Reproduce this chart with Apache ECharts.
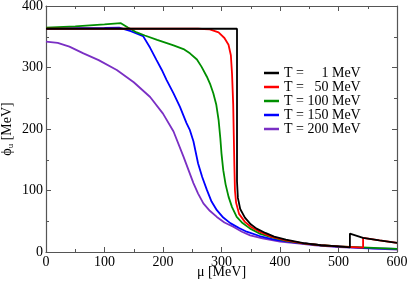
<!DOCTYPE html>
<html><head><meta charset="utf-8">
<script src="https://cdn.jsdelivr.net/npm/echarts@6/dist/echarts.min.js"></script>
<style>html,body{margin:0;padding:0;background:#fff}#c{width:409px;height:283px}</style>
</head><body><div id="c"></div>
<script>
const legendNums = ['1','50','100','150','200'];
const seriesNames = legendNums.map(n => 'T = ' + '\u2007'.repeat(3 - n.length) + n + ' MeV');
const colors = ['#000000','#ff0000','#008f00','#0000ff','#7a2fc4'];
const xTicks = [0,100,200,300,400,500,600];
const yTicks = [0,100,200,300,400];

const t1 = [[0,363],[100,363],[200,363],[300,363],[326.5,363],[326.5,115],[328,88],[332,70],[340,56],[350,45],[360,38],[375,31],[390,25],[410,20],[440,14.5],[470,11],[500,9],[519.5,7.5],[519.5,30],[542,23],[570,19],[600,15]];
const t50 = [[0,363],[100,363],[200,363],[260,363],[280,362],[295,357],[305,348],[312,337],[316,320],[318,290],[320,240],[321,190],[322,140],[323,100],[325,80],[330,62],[340,49],[350,41],[365,33],[385,25],[410,19],[440,14],[470,11],[500,9],[542,7],[542,23],[570,19],[600,15]];
const t100 = [[0,365],[50,367],[100,370],[128,372],[140,365],[155,357],[169,352],[190,345],[218,336],[235,330],[246,323],[258,313],[266,301],[275,285],[281,272],[286,258],[291,240],[295,215],[298,185],[300,160],[303,133],[307,110],[312,90],[318,73],[326,57],[336,47],[349,38],[365,30],[385,24],[410,18],[440,14],[470,11],[500,9],[550,7],[600,5]];
const t150 = [[0,363],[60,364],[100,364.5],[125,365],[145,359],[166,351],[178,332],[189,312],[198,296],[206,280],[218,258],[229,236],[240,210],[246,198],[252,180],[260,144],[267,122],[275,101],[283,82],[292,68],[303,56],[315,47],[330,39],[343,33],[365,26],[390,20],[420,16],[450,13],[480,10],[520,8],[560,6],[600,5]];
const t200 = [[0,342],[20,340],[40,334],[64,323],[90,312],[121,296],[150,276],[178,252],[200,225],[218,196],[235,155],[252,112],[260,95],[269,79],[280,67],[292,57],[305,48],[320,41],[335,33],[349,27],[370,22],[400,17],[430,14],[460,11],[500,8],[550,6],[600,4]];
const allData = [t1,t50,t100,t150,t200];

const font = 'Liberation Serif';
const frame = '#555';
function axisCommon(showLabels){
  return {
    axisLine:{show:true,onZero:false,lineStyle:{color:frame,width:1.2}},
    axisTick:{show:true,inside:true,length:5,lineStyle:{color:frame}},
    minorTick:{show:true,splitNumber:2,length:3,lineStyle:{color:frame}},
    splitLine:{show:false},
    axisLabel:{show:showLabels,color:'#000',fontFamily:font,fontSize:14,margin:3}
  };
}
const chart = echarts.init(document.getElementById('c'));
chart.setOption({
  animation:false,
  backgroundColor:'#fff',
  grid:{left:46,top:6,right:12,bottom:31,containLabel:false,outerBoundsMode:'none'},
  xAxis:[
    Object.assign({type:'value',min:xTicks[0],max:xTicks[xTicks.length-1],interval:100,position:'bottom',
      name:'μ [MeV]',nameLocation:'middle',nameGap:13,nameMoveOverlap:false,
      nameTextStyle:{fontFamily:font,fontSize:14,color:'#000'}},axisCommon(true)),
    Object.assign({type:'value',min:xTicks[0],max:xTicks[xTicks.length-1],interval:100,position:'top'},axisCommon(false))
  ],
  yAxis:[
    Object.assign({type:'value',min:yTicks[0],max:yTicks[yTicks.length-1],interval:100,position:'left',
      name:'{p|ϕ}{s|u}{p| [MeV]}',nameLocation:'middle',nameGap:31,nameMoveOverlap:false,
      nameTextStyle:{fontFamily:font,fontSize:14,color:'#000',
        rich:{p:{fontFamily:font,fontSize:14,color:'#000'},s:{fontFamily:font,fontSize:9,color:'#000',padding:[6,0,0,0]}}}},axisCommon(true)),
    Object.assign({type:'value',min:yTicks[0],max:yTicks[yTicks.length-1],interval:100,position:'right'},axisCommon(false))
  ],
  legend:{
    orient:'vertical',left:259,top:61,itemGap:0,itemWidth:15,itemHeight:2.5,icon:'rect',
    data:seriesNames,
    textStyle:{fontFamily:font,fontSize:14,color:'#000',lineHeight:13.6}
  },
  series: allData.map((d,i)=>({
    name:seriesNames[i],type:'line',data:d,xAxisIndex:0,yAxisIndex:0,
    symbol:'none',showSymbol:false,smooth:false,clip:true,
    lineStyle:{color:colors[i],width:1.8},itemStyle:{color:colors[i]},z:10-i
  }))
});
</script></body></html>
